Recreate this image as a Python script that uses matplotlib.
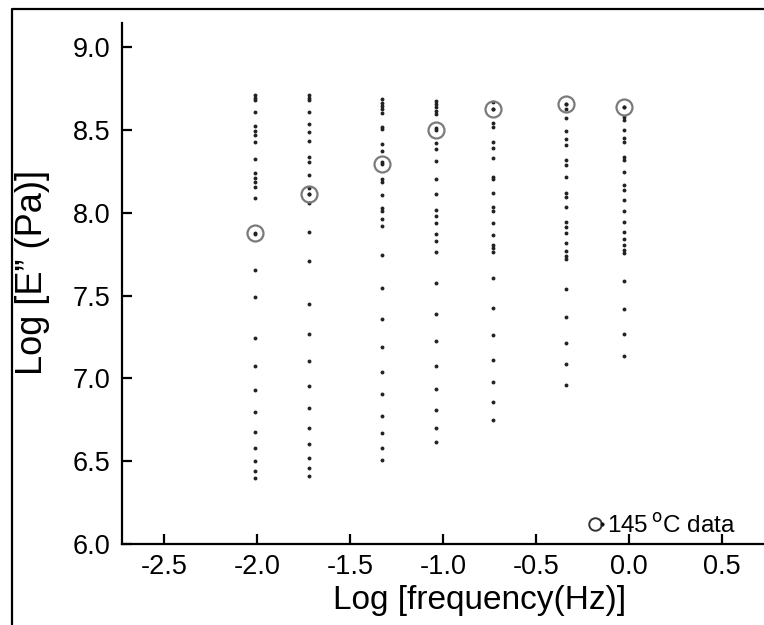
import matplotlib
matplotlib.use("Agg")
import matplotlib.pyplot as plt
from matplotlib.lines import Line2D
from matplotlib.legend_handler import HandlerTuple

plt.rcParams["font.family"] = ["Liberation Sans", "DejaVu Sans"]

# column positions, log frequency (Hz)
col_x = [-2.01, -1.72, -1.33, -1.04, -0.73, -0.34, -0.03]

# log E'' values in each column
col_y = [
    [8.710, 8.695, 8.680, 8.605, 8.524, 8.494, 8.466, 8.424, 8.323, 8.237,
     8.211, 8.183, 8.153, 8.090, 7.874, 7.654, 7.492, 7.245, 7.076, 6.929,
     6.795, 6.674, 6.581, 6.501, 6.440, 6.400],
    [8.710, 8.695, 8.680, 8.605, 8.533, 8.488, 8.432, 8.334, 8.307, 8.227,
     8.147, 8.110, 8.056, 7.885, 7.708, 7.448, 7.265, 7.102, 6.954, 6.819,
     6.702, 6.602, 6.517, 6.457, 6.410],
    [8.684, 8.663, 8.643, 8.623, 8.599, 8.518, 8.503, 8.414, 8.374, 8.307,
     8.201, 8.187, 8.107, 8.026, 8.011, 7.960, 7.921, 7.744, 7.543, 7.358,
     7.191, 7.036, 6.903, 6.774, 6.668, 6.578, 6.507],
    [8.675, 8.655, 8.635, 8.615, 8.595, 8.512, 8.418, 8.384, 8.313, 8.205,
     8.112, 8.015, 7.979, 7.935, 7.871, 7.829, 7.764, 7.573, 7.388, 7.225,
     7.074, 6.933, 6.808, 6.701, 6.614],
    [8.669, 8.623, 8.539, 8.518, 8.428, 8.388, 8.328, 8.217, 8.201, 8.120,
     8.032, 8.012, 7.939, 7.863, 7.804, 7.785, 7.760, 7.603, 7.422, 7.261,
     7.110, 6.976, 6.855, 6.748],
    [8.655, 8.623, 8.569, 8.492, 8.444, 8.408, 8.317, 8.287, 8.217, 8.116,
     8.096, 8.032, 7.945, 7.915, 7.875, 7.815, 7.768, 7.740, 7.720, 7.539,
     7.372, 7.214, 7.084, 6.960],
    [8.639, 8.575, 8.559, 8.498, 8.448, 8.424, 8.337, 8.317, 8.247, 8.166,
     8.136, 8.076, 8.010, 7.941, 7.885, 7.839, 7.805, 7.774, 7.758, 7.587,
     7.418, 7.267, 7.136],
]

# 145 C points (circled)
circ_y = [7.880, 8.110, 8.295, 8.500, 8.623, 8.655, 8.639]

xticks = [-2.5, -2.0, -1.5, -1.0, -0.5, 0.0, 0.5]
yticks = [6.0, 6.5, 7.0, 7.5, 8.0, 8.5, 9.0]

fig = plt.figure(figsize=(7.64, 6.25), dpi=100)
ax = fig.add_axes([0.1593, 0.1296, 0.8407, 0.8331])

for x, ys in zip(col_x, col_y):
    ax.plot([x] * len(ys), ys, "o", ms=2.8, color="#222222", mec="none")

ax.plot(col_x, circ_y, "o", ms=11.5, mfc="none", mec="#7a7a7a", mew=1.6)
ax.plot(col_x, circ_y, "o", ms=2.8, color="#222222", mec="none")

ax.set_xlim(-2.727, 0.724)
ax.set_ylim(6.0, 9.143)
ax.set_xticks(xticks)
ax.set_yticks(yticks)
ax.set_xticklabels([f"{v:.1f}" for v in xticks])
ax.set_yticklabels([f"{v:.1f}" for v in yticks])

for side in ["top", "right"]:
    ax.spines[side].set_visible(False)
for side in ["left", "bottom"]:
    ax.spines[side].set_linewidth(1.6)
ax.tick_params(direction="in", length=7, width=1.6, labelsize=19.5)
ax.tick_params(axis="x", pad=7)
ax.tick_params(axis="y", pad=8)

ax.set_xlabel("Log [frequency(Hz)]", fontsize=24)
ax.xaxis.set_label_coords(0.557, -0.078)
ax.set_ylabel("Log [E\u201d (Pa)]", fontsize=26)
ax.yaxis.set_label_coords(-0.112, 0.522)

h_ring = Line2D([], [], ls="none", marker="o", ms=9, mfc="none", mec="#333333", mew=1.4)
h_dot = Line2D([], [], ls="none", marker="o", ms=3, color="#111111", mec="none")
ax.legend([(h_ring, h_dot)], ["145$\\,^{\\rm o}$C data"],
          handler_map={tuple: HandlerTuple(ndivide=None, pad=0)},
          loc="lower right", bbox_to_anchor=(0.99, -0.03), frameon=False,
          fontsize=17.5, handlelength=0.55, handletextpad=0.05)

# outer frame (partly cropped in the original)
fx = 12 / 764
fy = 1 - 9 / 625
fig.add_artist(Line2D([fx, fx, 1.0], [0.0, fy, fy], color="black", lw=1.6,
                      transform=fig.transFigure))

fig.savefig("out.png", dpi=100)
